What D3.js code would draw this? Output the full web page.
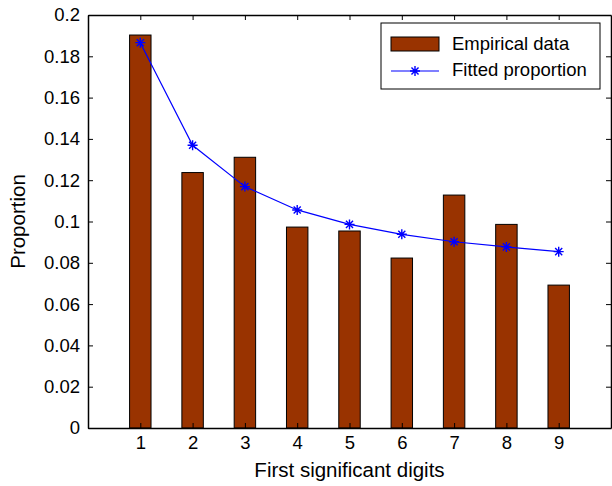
<!DOCTYPE html>
<html>
<head>
<meta charset="utf-8">
<script src="https://cdn.jsdelivr.net/npm/d3@7"></script>
<style>
  body { margin: 0; background: #fff; }
  svg { font-family: "Liberation Sans", Arial, sans-serif; }
</style>
</head>
<body>
<script>
// DATA
const digits = [1, 2, 3, 4, 5, 6, 7, 8, 9];
const empirical = [0.1903, 0.1237, 0.1311, 0.0973, 0.0954, 0.0823, 0.1128, 0.0986, 0.0692];
const fitted = [0.1866, 0.1369, 0.1169, 0.1056, 0.0986, 0.0938, 0.0902, 0.0877, 0.0854];
const yTicks = [0, 0.02, 0.04, 0.06, 0.08, 0.1, 0.12, 0.14, 0.16, 0.18, 0.2];

const width = 612;
const height = 486;
const margin = { left: 88, right: 1, top: 15, bottom: 58 };

const svg = d3.select("body").append("svg")
  .attr("width", width)
  .attr("height", height);

// SCALES
const x = d3.scaleLinear().domain([0, 10]).range([margin.left, width - margin.right]);
const y = d3.scaleLinear().domain([0, 0.2]).range([height - margin.bottom, margin.top]);
const barW = x(0.41) - x(0);

// BARS
svg.append("g")
  .selectAll("rect")
  .data(digits)
  .enter()
  .append("rect")
  .attr("x", (d) => x(d) - barW / 2)
  .attr("y", (d, i) => y(empirical[i]))
  .attr("width", barW)
  .attr("height", (d, i) => y(0) - y(empirical[i]))
  .attr("fill", "#993300")
  .attr("stroke", "#000")
  .attr("stroke-width", 1);

// FITTED LINE
const line = d3.line().x((d) => x(d)).y((d, i) => y(fitted[i]));
svg.append("path")
  .datum(digits)
  .attr("d", line)
  .attr("fill", "none")
  .attr("stroke", "#0000ff")
  .attr("stroke-width", 1.2);

const star = (g, cx, cy) => {
  const r = 5;
  const p = [];
  for (let k = 0; k < 4; k++) {
    const a = (k * Math.PI) / 4;
    p.push(`M${cx - r * Math.cos(a)},${cy - r * Math.sin(a)}L${cx + r * Math.cos(a)},${cy + r * Math.sin(a)}`);
  }
  g.append("path").attr("d", p.join("")).attr("stroke", "#0000ff").attr("stroke-width", 1.4).attr("fill", "none");
};
const markers = svg.append("g");
digits.forEach((d, i) => star(markers, x(d), y(fitted[i])));

// AXES (box with inward ticks)
const tickLen = 5;
const xAxis = d3.axisBottom(x).tickValues(digits).tickSize(-tickLen).tickPadding(8).tickSizeOuter(0);
const yAxis = d3.axisLeft(y).tickValues(yTicks).tickSize(-tickLen).tickPadding(8).tickSizeOuter(0)
  .tickFormat((d) => String(+d.toFixed(2)));

const gx = svg.append("g").attr("transform", `translate(0,${y(0)})`).call(xAxis);
const gy = svg.append("g").attr("transform", `translate(${x(0)},0)`).call(yAxis);
const gxTop = svg.append("g").attr("transform", `translate(0,${y(0.2)})`)
  .call(d3.axisTop(x).tickValues(digits).tickSize(-tickLen).tickSizeOuter(0).tickFormat(""));
const gyRight = svg.append("g").attr("transform", `translate(${x(10)},0)`)
  .call(d3.axisRight(y).tickValues(yTicks).tickSize(-tickLen).tickSizeOuter(0).tickFormat(""));

[gx, gy, gxTop, gyRight].forEach((g) => {
  g.select(".domain").attr("stroke", "#000").attr("stroke-width", 1.5);
  g.selectAll(".tick line").attr("stroke", "#000").attr("stroke-width", 1);
  g.selectAll("text").attr("font-size", 18.5).attr("fill", "#000").attr("font-family", "Liberation Sans, Arial, sans-serif");
});

// AXIS TITLES
svg.append("text")
  .attr("x", (x(0) + x(10)) / 2)
  .attr("y", 477)
  .attr("text-anchor", "middle")
  .attr("font-size", 20.5)
  .text("First significant digits");

svg.append("text")
  .attr("transform", `translate(25,${(y(0) + y(0.2)) / 2}) rotate(-90)`)
  .attr("text-anchor", "middle")
  .attr("font-size", 20.5)
  .text("Proportion");

// LEGEND
const legend = svg.append("g").attr("transform", "translate(381,23)");
legend.append("rect")
  .attr("width", 219).attr("height", 66)
  .attr("fill", "#fff").attr("stroke", "#000").attr("stroke-width", 1);
legend.append("rect")
  .attr("x", 10).attr("y", 14).attr("width", 48).attr("height", 14)
  .attr("fill", "#993300").attr("stroke", "#000").attr("stroke-width", 1);
legend.append("text").attr("x", 71).attr("y", 27).attr("font-size", 18.5).text("Empirical data");
legend.append("line")
  .attr("x1", 10).attr("x2", 58).attr("y1", 48).attr("y2", 48)
  .attr("stroke", "#0000ff").attr("stroke-width", 1.2);
star(legend, 34, 48);
legend.append("text").attr("x", 71).attr("y", 53).attr("font-size", 18.5).text("Fitted proportion");
</script>
</body>
</html>
